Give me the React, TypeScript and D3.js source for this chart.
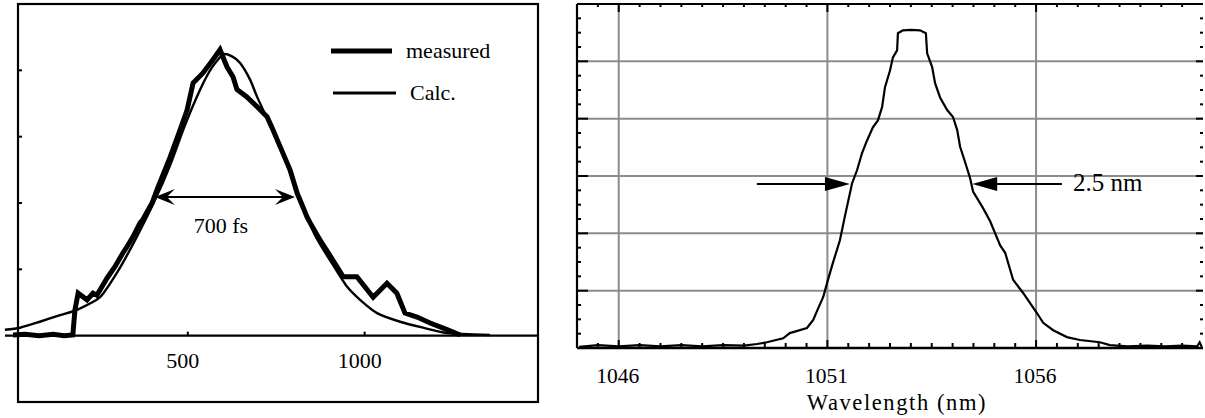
import * as d3 from 'd3'
import React from 'react'

// ---- left panel: autocorrelation trace ----
const delayMeasured = [6, 40, 80, 120, 150, 175, 181, 190, 215, 232, 243, 272, 294, 317, 328, 345, 365, 373, 399, 413, 450, 478, 498, 515, 543, 571, 591, 611, 628, 639, 667, 696, 724, 741, 761, 789, 809, 817, 837, 846, 874, 910, 939, 978, 1024, 1063, 1091, 1114, 1148, 1185, 1233, 1270]
const traceMeasured = [0.01, 0.02, 0.0, 0.02, 0.0, 0.01, 0.39, 0.64, 0.54, 0.64, 0.61, 0.87, 1.04, 1.25, 1.34, 1.49, 1.70, 1.75, 2.00, 2.20, 2.69, 3.10, 3.40, 3.81, 3.96, 4.16, 4.31, 4.05, 3.90, 3.71, 3.60, 3.45, 3.30, 3.10, 2.85, 2.50, 2.15, 2.05, 1.79, 1.70, 1.44, 1.14, 0.89, 0.89, 0.58, 0.79, 0.64, 0.34, 0.28, 0.19, 0.09, 0.01]
const delayCalc = [-17, 26, 82, 139, 187, 252, 300, 351, 407, 450, 492, 535, 568, 600, 625, 648, 676, 696, 732, 775, 812, 860, 910, 950, 987, 1035, 1100, 1165, 1233, 1354]
const traceCalc = [0.09, 0.12, 0.21, 0.31, 0.39, 0.58, 0.95, 1.44, 2.04, 2.57, 3.17, 3.71, 4.04, 4.24, 4.21, 4.11, 3.86, 3.60, 3.18, 2.65, 2.12, 1.51, 1.07, 0.74, 0.54, 0.34, 0.21, 0.12, 0.04, 0.01]
const delayTicks = [500, 1000]
const traceTicks = [1, 2, 3, 4]
const legendLabels = ['measured', 'Calc.']
const fwhmDelay = [407, 803]
const fwhmLevel = 2.09
const fwhmLabel = '700 fs'

// ---- right panel: spectrum ----
const wavelength = [1045.05, 1045.5, 1046, 1046.5, 1047, 1047.5, 1048, 1048.5, 1049, 1049.31, 1049.55, 1049.94, 1050.1, 1050.51, 1050.66, 1050.76, 1050.9, 1051.01, 1051.13, 1051.3, 1051.42, 1051.59, 1051.71, 1051.83, 1051.95, 1052.09, 1052.21, 1052.31, 1052.38, 1052.5, 1052.57, 1052.67, 1052.69, 1052.81, 1053.0, 1053.22, 1053.36, 1053.39, 1053.51, 1053.58, 1053.7, 1053.87, 1054.01, 1054.11, 1054.18, 1054.3, 1054.42, 1054.49, 1054.73, 1054.9, 1055.14, 1055.26, 1055.45, 1055.69, 1056.02, 1056.17, 1056.41, 1056.74, 1057.05, 1057.53, 1057.77, 1058.2, 1058.66, 1059.1, 1059.5, 1059.86, 1059.92, 1059.97]
const spectrum = [0.02, 0.05, 0.03, 0.05, 0.03, 0.05, 0.03, 0.05, 0.04, 0.07, 0.10, 0.17, 0.26, 0.35, 0.49, 0.66, 0.89, 1.18, 1.48, 1.88, 2.30, 2.87, 3.10, 3.40, 3.62, 3.85, 3.97, 4.20, 4.55, 4.84, 5.07, 5.19, 5.49, 5.54, 5.55, 5.54, 5.49, 5.14, 4.90, 4.62, 4.37, 4.15, 4.03, 3.80, 3.51, 3.24, 2.96, 2.73, 2.44, 2.21, 1.79, 1.66, 1.19, 0.96, 0.61, 0.44, 0.31, 0.19, 0.14, 0.10, 0.05, 0.03, 0.04, 0.03, 0.04, 0.03, 0.10, 0.02]
const wlTicks = [1046, 1051, 1056]
const specGrid = [1, 2, 3, 4, 5]
const bwLeft = [1049.31, 1051.54]
const bwRight = [1056.62, 1054.47]
const bwLevel = 2.86
const bwLabel = '2.5 nm'
const wlTitle = 'Wavelength (nm)'

const FONT = '"Liberation Serif", "Times New Roman", serif'

// notched arrow head (left panel), dir = -1 points left
const notchHead = (x: number, y: number, dir: number) => {
  const l = 20, h = 8, n = 12
  return `M${x},${y} L${x - dir * l},${y - h} L${x - dir * n},${y} L${x - dir * l},${y + h} Z`
}
// plain filled triangle (right panel)
const triHead = (x: number, y: number, dir: number) => {
  const l = 25, h = 7
  return `M${x},${y} L${x - dir * l},${y - h} L${x - dir * l},${y + h} Z`
}

const App = () => {
  // left scales
  const xL = d3.scaleLinear().domain([20, 1490]).range([18, 538])
  const yL = d3.scaleLinear().domain([-1, 5]).range([402, 4])
  const lineL = d3.line<[number, number]>().x(d => xL(d[0])).y(d => yL(d[1]))
  const measured = lineL(delayMeasured.map((t, i) => [t, traceMeasured[i]]))
  const calc = lineL.curve(d3.curveCardinal.tension(0.3))(delayCalc.map((t, i) => [t, traceCalc[i]]))

  // right scales
  const xR = d3.scaleLinear().domain([1045, 1060]).range([577, 1203])
  const yR = d3.scaleLinear().domain([0, 6]).range([348, 4])
  const lineR = d3.line<[number, number]>().x(d => xR(d[0])).y(d => yR(d[1]))
  const spec = lineR(wavelength.map((w, i) => [w, spectrum[i]]))
  const xMinor = d3.range(1045.5, 1060, 0.5)
  const yMinor = d3.range(0.25, 6, 0.25)

  const fy = yL(fwhmLevel)
  const by = yR(bwLevel)

  return (
    <svg width={1205} height={418} style={{ position: 'absolute', left: 0, top: 0, background: '#fff' }} fontFamily={FONT}>
      {/* ---------- left panel ---------- */}
      <rect x={xL(20)} y={yL(5)} width={xL(1490) - xL(20)} height={yL(-1) - yL(5)} fill="none" stroke="#000" strokeWidth={2.2} />
      <line x1={5} x2={xL(1490)} y1={yL(0)} y2={yL(0)} stroke="#000" strokeWidth={2.2} />
      {traceTicks.map(t => (
        <line key={t} x1={xL(20)} x2={xL(20) + 4} y1={yL(t)} y2={yL(t)} stroke="#000" strokeWidth={2} />
      ))}
      {delayTicks.map(t => (
        <g key={t}>
          <line x1={xL(t)} x2={xL(t)} y1={yL(0)} y2={yL(0) - 4} stroke="#000" strokeWidth={2} />
          <text x={xL(t) - 5} y={368} fontSize={22} textAnchor="middle">{t}</text>
        </g>
      ))}
      <path d={calc || ''} fill="none" stroke="#000" strokeWidth={2.4} />
      <path d={measured || ''} fill="none" stroke="#000" strokeWidth={5} strokeLinejoin="miter" />

      {/* FWHM arrow */}
      <line x1={xL(fwhmDelay[0]) + 10} x2={xL(fwhmDelay[1]) - 10} y1={fy} y2={fy} stroke="#000" strokeWidth={2} />
      <path d={notchHead(xL(fwhmDelay[0]), fy, -1)} fill="#000" />
      <path d={notchHead(xL(fwhmDelay[1]), fy, 1)} fill="#000" />
      <text x={221} y={233} fontSize={22} textAnchor="middle">{fwhmLabel}</text>

      {/* legend */}
      <line x1={331} x2={392} y1={51} y2={51} stroke="#000" strokeWidth={5} />
      <text x={406} y={58} fontSize={22}>{legendLabels[0]}</text>
      <line x1={333} x2={396} y1={93} y2={93} stroke="#000" strokeWidth={3} />
      <text x={410} y={100} fontSize={22}>{legendLabels[1]}</text>

      {/* ---------- right panel ---------- */}
      {specGrid.map(v => (
        <line key={'h' + v} x1={xR(1045)} x2={xR(1060)} y1={yR(v)} y2={yR(v)} stroke="#8c8c8c" strokeWidth={2} />
      ))}
      {wlTicks.map(w => (
        <line key={'v' + w} x1={xR(w)} x2={xR(w)} y1={yR(6)} y2={yR(0)} stroke="#8c8c8c" strokeWidth={2} />
      ))}
      {xMinor.map(w => {
        const major = wlTicks.includes(w)
        return (
          <g key={'xm' + w}>
            <line x1={xR(w)} x2={xR(w)} y1={yR(0)} y2={yR(0) - (major ? 8 : 5)} stroke="#000" strokeWidth={2} />
            <line x1={xR(w)} x2={xR(w)} y1={yR(6)} y2={yR(6) + (major ? 8 : 3)} stroke="#000" strokeWidth={2} />
          </g>
        )
      })}
      {yMinor.map(v => {
        const major = Number.isInteger(v)
        return (
          <g key={'ym' + v}>
            <line x1={xR(1045)} x2={xR(1045) + (major ? 11 : 4)} y1={yR(v)} y2={yR(v)} stroke="#000" strokeWidth={2} />
            <line x1={xR(1060)} x2={xR(1060) - (major ? 7 : 3)} y1={yR(v)} y2={yR(v)} stroke="#000" strokeWidth={2} />
          </g>
        )
      })}
      <line x1={xR(1045)} x2={xR(1045)} y1={yR(6)} y2={yR(0)} stroke="#000" strokeWidth={2.2} />
      <line x1={xR(1045)} x2={xR(1060)} y1={yR(6)} y2={yR(6)} stroke="#000" strokeWidth={2.2} />
      <line x1={xR(1045)} x2={xR(1060)} y1={yR(0)} y2={yR(0)} stroke="#000" strokeWidth={2.6} />
      {wlTicks.map(w => (
        <text key={'t' + w} x={xR(w) - 1} y={383} fontSize={21.5} textAnchor="middle">{w}</text>
      ))}
      <text x={897} y={410} fontSize={22.5} letterSpacing={1.6} textAnchor="middle">{wlTitle}</text>

      <path d={spec || ''} fill="none" stroke="#000" strokeWidth={2.2} />

      {/* bandwidth arrows */}
      <line x1={xR(bwLeft[0])} x2={xR(bwLeft[1]) - 20} y1={by} y2={by} stroke="#000" strokeWidth={2} />
      <path d={triHead(xR(bwLeft[1]), by, 1)} fill="#000" />
      <line x1={xR(bwRight[0])} x2={xR(bwRight[1]) + 20} y1={by} y2={by} stroke="#000" strokeWidth={2} />
      <path d={triHead(xR(bwRight[1]), by, -1)} fill="#000" />
      <text x={1073} y={by + 7} fontSize={25}>{bwLabel}</text>
    </svg>
  )
}

export default App
